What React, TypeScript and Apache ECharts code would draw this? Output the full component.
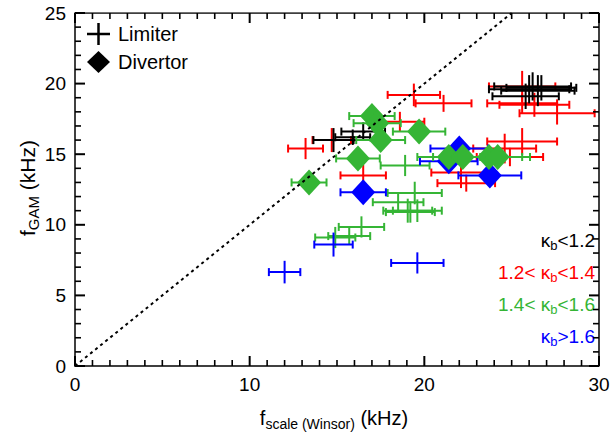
import React, { useEffect, useRef } from "react";
import * as echarts from "echarts";

const FONT = '"Liberation Sans", Arial, Helvetica, sans-serif';
const BLACK = "#000000";
const RED = "#ff0000";
const GREEN = "#35b535";
const BLUE = "#0000ff";

// Limiter shots: [f_scale, f_GAM, xErr, yErr] in kHz
const limiterKappaBelow12: number[][] = [
  [14.8, 16.0, 1.15, 0.85],
  [15.9, 16.2, 1.0, 0.55],
  [16.5, 16.6, 1.25, 0.65],
  [25.8, 19.1, 1.9, 0.9],
  [26.0, 19.6, 2.3, 1.0],
  [26.2, 19.8, 2.2, 1.0],
  [26.5, 19.5, 2.1, 1.1],
  [26.7, 19.7, 2.0, 0.9],
];

const limiterKappa12to14: number[][] = [
  [13.2, 15.4, 1.0, 0.75],
  [14.7, 16.0, 1.1, 0.85],
  [16.5, 13.5, 1.3, 0.75],
  [18.6, 17.3, 1.4, 0.7],
  [19.4, 19.2, 1.5, 0.8],
  [21.1, 18.6, 1.6, 0.6],
  [22.1, 13.7, 1.7, 1.1],
  [22.4, 12.95, 1.65, 0.6],
  [24.6, 15.4, 1.8, 1.05],
  [24.9, 14.8, 1.9, 0.65],
  [25.6, 15.9, 2.0, 0.95],
  [25.6, 19.8, 1.9, 1.1],
  [25.6, 18.6, 2.0, 0.7],
  [26.3, 18.5, 2.0, 0.85],
  [27.6, 17.9, 2.15, 0.8],
];

const limiterKappa14to16: number[][] = [
  [14.9, 9.1, 1.15, 0.75],
  [15.7, 9.2, 1.2, 0.6],
  [16.4, 9.85, 1.3, 0.75],
  [18.5, 11.6, 1.45, 0.65],
  [19.05, 11.0, 1.4, 0.85],
  [19.2, 10.9, 1.4, 0.75],
  [19.6, 11.0, 1.4, 0.8],
  [19.45, 12.25, 1.55, 0.8],
  [18.9, 14.2, 1.4, 0.75],
];

const limiterKappaAbove16: number[][] = [
  [12.0, 6.65, 0.9, 0.8],
  [14.8, 8.6, 1.1, 0.85],
  [19.6, 7.3, 1.5, 0.75],
];

// Divertor shots: [f_scale, f_GAM, xErr, yErr]
const divertorKappa14to16: number[][] = [
  [13.4, 13.0, 1.0, 0],
  [16.2, 14.7, 1.25, 0],
  [17.0, 17.7, 1.3, 0],
  [17.3, 17.2, 1.35, 0],
  [17.5, 16.0, 1.4, 0],
  [19.7, 16.6, 1.5, 0],
  [21.4, 14.8, 1.8, 0],
  [22.2, 14.8, 1.7, 0],
  [23.7, 14.8, 1.9, 0],
  [24.2, 14.8, 1.85, 0],
];

const divertorKappaAbove16: number[][] = [
  [16.5, 12.3, 1.3, 0],
  [21.4, 14.5, 1.65, 0],
  [22.0, 15.4, 1.65, 0],
  [23.75, 13.5, 1.8, 0],
];

// f_GAM = f_scale reference line
const unityLine: number[][] = [
  [0, 0],
  [25, 25],
];

// [min, max, major interval, minor step]
const xRange = [0, 30, 10, 1];
const yRange = [0, 25, 5, 1];

const kappaLabels = [
  { pre: "", post: "<1.2", color: BLACK },
  { pre: "1.2< ", post: "<1.4", color: RED },
  { pre: "1.4< ", post: "<1.6", color: GREEN },
  { pre: "", post: ">1.6", color: BLUE },
];

const measureCtx = document.createElement("canvas").getContext("2d")!;
function measure(text: string, size: number) {
  measureCtx.font = `${size}px ${FONT}`;
  return measureCtx.measureText(text).width;
}

type Seg = { text: string; size: number; dy: number };

// lays out mixed-size text pieces (subscripts) along one line
function textRun(
  segs: Seg[],
  x: number,
  y: number,
  align: "left" | "center" | "right",
  color: string,
  rotation = 0
) {
  const widths = segs.map((s) => measure(s.text, s.size));
  const total = widths.reduce((a, b) => a + b, 0);
  let cx = align === "left" ? 0 : align === "center" ? -total / 2 : -total;
  const children = segs.map((s, i) => {
    const el = {
      type: "text",
      x: cx,
      y: s.dy,
      style: {
        text: s.text,
        fill: color,
        fontSize: s.size,
        fontFamily: FONT,
        align: "left",
        verticalAlign: "middle",
      },
    };
    cx += widths[i];
    return el;
  });
  return { type: "group", x, y, rotation, children };
}

function errorBars(color: string, capH = 8, lw = 2) {
  return (_params: any, api: any) => {
    const x = api.value(0);
    const y = api.value(1);
    const ex = api.value(2);
    const ey = api.value(3);
    const l = api.coord([x - ex, y]);
    const r = api.coord([x + ex, y]);
    const style = { stroke: color, lineWidth: lw, fill: null };
    const children: any[] = [
      { type: "line", shape: { x1: l[0], y1: l[1], x2: r[0], y2: r[1] }, style },
      { type: "line", shape: { x1: l[0], y1: l[1] - capH / 2, x2: l[0], y2: l[1] + capH / 2 }, style },
      { type: "line", shape: { x1: r[0], y1: r[1] - capH / 2, x2: r[0], y2: r[1] + capH / 2 }, style },
    ];
    if (ey > 0) {
      const t = api.coord([x, y + ey]);
      const b = api.coord([x, y - ey]);
      children.push({ type: "line", shape: { x1: t[0], y1: t[1], x2: b[0], y2: b[1] }, style });
    }
    return { type: "group", children };
  };
}

function barSeries(data: number[][], color: string) {
  return {
    type: "custom",
    data,
    encode: { x: 0, y: 1 },
    renderItem: errorBars(color),
    clip: false,
    silent: true,
  };
}

function diamondSeries(data: number[][], color: string) {
  return {
    type: "scatter",
    data: data.map((d) => [d[0], d[1]]),
    symbol: "diamond",
    symbolSize: [24, 26],
    itemStyle: { color, opacity: 1 },
    silent: true,
  };
}

const isMajor = (v: number, step: number) => Math.abs(v / step - Math.round(v / step)) < 1e-6;

// tick rows along all four frame edges: [x value, y value, side, major]
// side: 0 bottom, 1 top (x ticks); 2 left, 3 right (y ticks)
function frameTickData() {
  const out: number[][] = [];
  for (let v = xRange[0]; v <= xRange[1] + 1e-9; v += xRange[3]) {
    const m = isMajor(v, xRange[2]) ? 1 : 0;
    out.push([v, yRange[0], 0, m], [v, yRange[1], 1, m]);
  }
  for (let v = yRange[0]; v <= yRange[1] + 1e-9; v += yRange[3]) {
    const m = isMajor(v, yRange[2]) ? 1 : 0;
    out.push([xRange[0], v, 2, m], [xRange[1], v, 3, m]);
  }
  return out;
}

function frameTicksSeries() {
  return {
    type: "custom",
    data: frameTickData(),
    encode: { x: 0, y: 1 },
    clip: false,
    silent: true,
    z: 5,
    renderItem: (_params: any, api: any) => {
      const p = api.coord([api.value(0), api.value(1)]);
      const side = api.value(2);
      const major = api.value(3) === 1;
      const len = major ? 10 : 6;
      const style = { stroke: BLACK, lineWidth: major ? 2 : 1.6, fill: null };
      let shape;
      if (side === 0) shape = { x1: p[0], y1: p[1], x2: p[0], y2: p[1] - len };
      else if (side === 1) shape = { x1: p[0], y1: p[1], x2: p[0], y2: p[1] + len };
      else if (side === 2) shape = { x1: p[0], y1: p[1], x2: p[0] + len, y2: p[1] };
      else shape = { x1: p[0], y1: p[1], x2: p[0] - len, y2: p[1] };
      return { type: "group", children: [{ type: "line", shape, style }] };
    },
  };
}

function axisCommon(range: number[]) {
  return {
    type: "value",
    min: range[0],
    max: range[1],
    interval: range[2],
    axisLine: { show: true, lineStyle: { color: BLACK, width: 1.5 } },
    axisTick: { show: false },
    minorTick: { show: false },
    splitLine: { show: false },
    axisLabel: {
      color: BLACK,
      fontSize: 19,
      fontFamily: FONT,
      margin: 9,
    },
  };
}

export default function App() {
  const ref = useRef<HTMLDivElement>(null);

  useEffect(() => {
    if (!ref.current) return;
    const chart = echarts.init(ref.current, null, { renderer: "svg" });

    const legendGraphics: any[] = [
      { type: "line", shape: { x1: 87, y1: 34, x2: 110, y2: 34 }, style: { stroke: BLACK, lineWidth: 2.5 } },
      { type: "line", shape: { x1: 98.5, y1: 23, x2: 98.5, y2: 45 }, style: { stroke: BLACK, lineWidth: 2.5 } },
      textRun([{ text: "Limiter", size: 20, dy: 0 }], 118, 34, "left", BLACK),
      {
        type: "polygon",
        shape: { points: [[98.5, 51], [110, 62], [98.5, 73], [87, 62]] },
        style: { fill: BLACK },
      },
      textRun([{ text: "Divertor", size: 20, dy: 0 }], 118, 62, "left", BLACK),
    ];

    const kappaGraphics = kappaLabels.map((k, i) =>
      textRun(
        [
          { text: k.pre + "κ", size: 19, dy: 0 },
          { text: "b", size: 13, dy: 5 },
          { text: k.post, size: 19, dy: 0 },
        ],
        595,
        240 + i * 32,
        "right",
        k.color
      )
    );

    const titleGraphics = [
      textRun(
        [
          { text: "f", size: 20, dy: 0 },
          { text: "scale (Winsor)", size: 14, dy: 6 },
          { text: " (kHz)", size: 20, dy: 0 },
        ],
        334,
        418,
        "center",
        BLACK
      ),
      textRun(
        [
          { text: "f", size: 21, dy: 0 },
          { text: "GAM", size: 15, dy: 6 },
          { text: " (kHz)", size: 21, dy: 0 },
        ],
        27,
        188,
        "center",
        BLACK,
        Math.PI / 2
      ),
    ];

    const frameEdge = [
      [xRange[0], yRange[1]],
      [xRange[1], yRange[1]],
      [xRange[1], yRange[0]],
    ];

    chart.setOption({
      animation: false,
      grid: { left: 75, right: 14, top: 13, bottom: 73 },
      xAxis: axisCommon(xRange),
      yAxis: axisCommon(yRange),
      series: [
        {
          type: "line",
          data: unityLine,
          symbol: "none",
          lineStyle: { color: BLACK, width: 2, type: [3, 3.5] },
          silent: true,
        },
        barSeries(limiterKappa12to14, RED),
        barSeries(limiterKappa14to16, GREEN),
        barSeries(limiterKappaAbove16, BLUE),
        barSeries(limiterKappaBelow12, BLACK),
        barSeries(divertorKappaAbove16, BLUE),
        diamondSeries(divertorKappaAbove16, BLUE),
        barSeries(divertorKappa14to16, GREEN),
        diamondSeries(divertorKappa14to16, GREEN),
        {
          type: "line",
          data: frameEdge,
          symbol: "none",
          lineStyle: { color: BLACK, width: 1.5 },
          silent: true,
          z: 5,
        },
        frameTicksSeries(),
      ],
      graphic: [...legendGraphics, ...kappaGraphics, ...titleGraphics],
    });

    return () => chart.dispose();
  }, []);

  return (
    <div
      ref={ref}
      style={{ position: "fixed", left: 0, top: 0, width: 613, height: 439, background: "#fff" }}
    />
  );
}
